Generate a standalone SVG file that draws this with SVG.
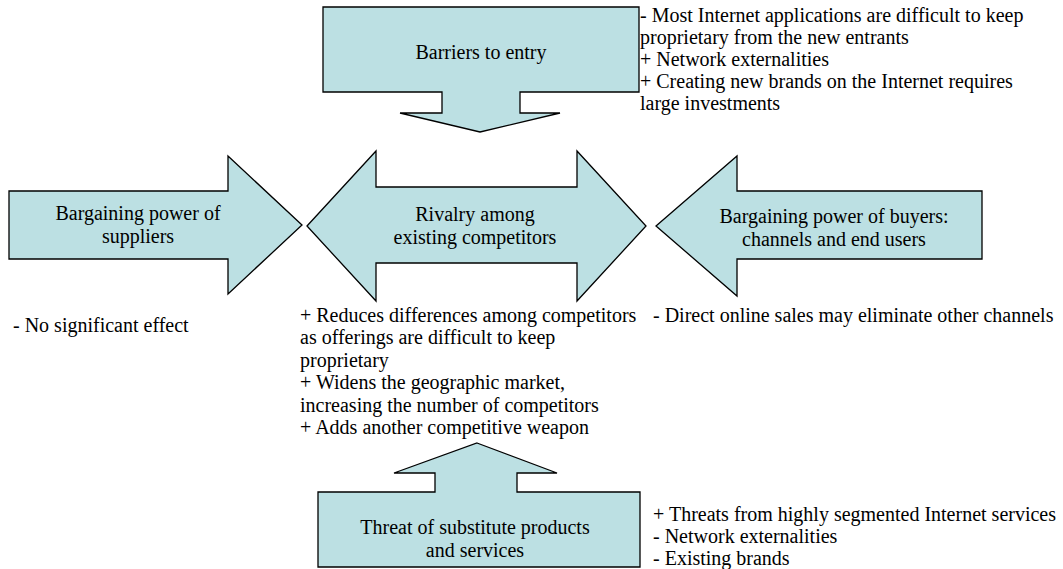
<svg xmlns="http://www.w3.org/2000/svg" width="1063" height="569" viewBox="0 0 1063 569">
<style>
.shape{fill:#bce0e3;stroke:#000;stroke-width:1.3;stroke-linejoin:miter}
text{font-family:"Liberation Serif","Times New Roman",serif;font-size:20px;fill:#000}
.c{text-anchor:middle}
</style>
<rect width="1063" height="569" fill="#fff"/>
<g id="connectors"></g>
<g id="barriers">
<path class="shape" d="M323,7 H639 V92 H520 V113 H560 L480,132 L400,113 H442 V92 H323 Z"/>
<text class="c" x="481" y="59">Barriers to entry</text>
</g>
<g id="suppliers">
<path class="shape" d="M9,191 H228 V156 L302,225 L228,294 V259 H9 Z"/>
<text class="c" x="138" y="220">Bargaining power of</text>
<text class="c" x="138" y="243">suppliers</text>
</g>
<g id="rivalry">
<path class="shape" d="M307,226 L376,151 V187 H577 V151 L646,226 L577,301 V263 H376 V301 Z"/>
<text class="c" x="475" y="221">Rivalry among</text>
<text class="c" x="475" y="244">existing competitors</text>
</g>
<g id="buyers">
<path class="shape" d="M656,226 L737,156 V191 H982 V259 H737 V296 Z"/>
<text class="c" x="834" y="223">Bargaining power of buyers:</text>
<text class="c" x="834" y="246">channels and end users</text>
</g>
<g id="substitutes">
<path class="shape" d="M477,443 L557,473 H517 V492 H640 V567 H318 V492 H435 V473 H394 Z"/>
<text class="c" x="475" y="534">Threat of substitute products</text>
<text class="c" x="475" y="557">and services</text>
</g>
<g id="barriers-notes">
<text x="640" y="22">- Most Internet applications are difficult to keep</text>
<text x="640" y="44">proprietary from the new entrants</text>
<text x="640" y="66">+ Network externalities</text>
<text x="640" y="88">+ Creating new brands on the Internet requires</text>
<text x="640" y="110">large investments</text>
</g>
<g id="suppliers-notes">
<text x="13" y="332">- No significant effect</text>
</g>
<g id="rivalry-notes">
<text x="300" y="322">+ Reduces differences among competitors</text>
<text x="300" y="344">as offerings are difficult to keep</text>
<text x="300" y="367">proprietary</text>
<text x="300" y="389">+ Widens the geographic market,</text>
<text x="300" y="412">increasing the number of competitors</text>
<text x="300" y="434">+ Adds another competitive weapon</text>
</g>
<g id="buyers-notes">
<text x="653" y="322">- Direct online sales may eliminate other channels</text>
</g>
<g id="substitutes-notes">
<text x="653" y="521">+ Threats from highly segmented Internet services</text>
<text x="653" y="543">- Network externalities</text>
<text x="653" y="565">- Existing brands</text>
</g>
</svg>
